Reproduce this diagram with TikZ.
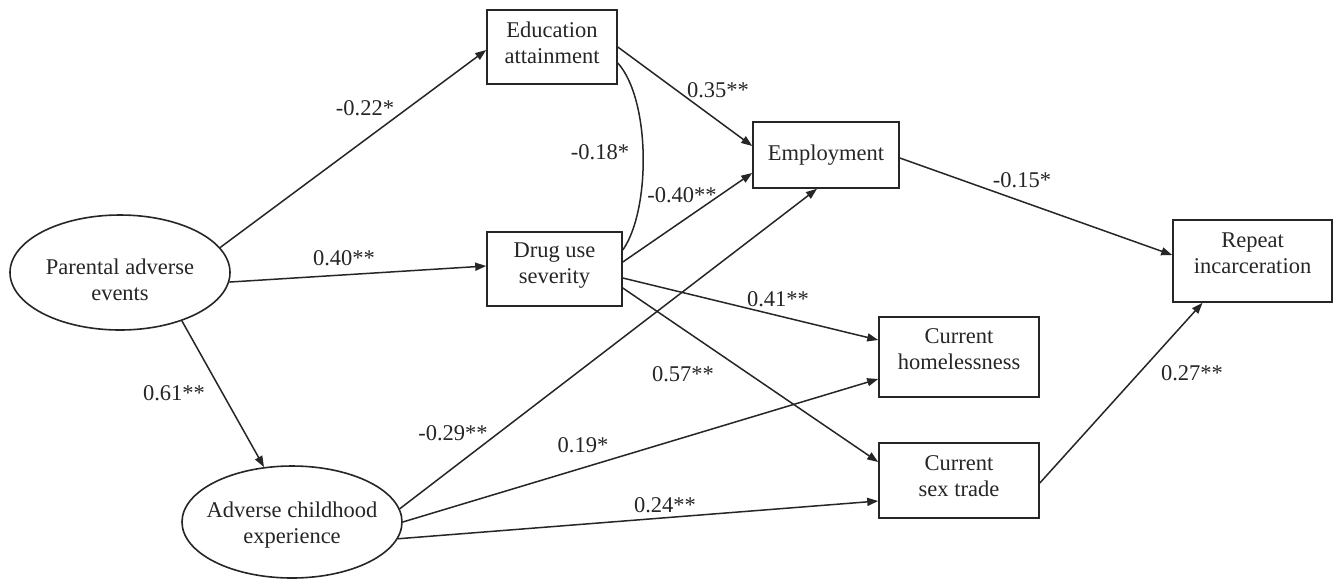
\documentclass[tikz,border=0pt]{standalone}
\usepackage{fontspec}
\setmainfont{Liberation Serif}
\usetikzlibrary{arrows.meta,shapes.geometric}
% two-line text; #3 = extra space above (moves text down), #4 = extra space below (moves text up)
\newcommand{\twoline}[4]{\begin{tabular}{@{}c@{}}\rule{0pt}{\dimexpr 18.2pt+#3\relax}#1\\#2\rule[\dimexpr -7.8pt-#4\relax]{0pt}{0pt}\end{tabular}}
\tikzset{
  txt/.style={font=\fontsize{22.5}{26}\selectfont, text=black!85},
  box/.style={txt, rectangle, draw=black!85, line width=1.6pt, inner sep=0pt},
  oval/.style={txt, ellipse, draw=black!85, line width=1.6pt, inner sep=0pt},
  coef/.style={txt, inner sep=0pt},
  arr/.style={draw=black!85, line width=1.5pt, -{Triangle[length=11pt,width=8pt]}},
  link/.style={draw=black!85, line width=1.5pt}
}
\begin{document}
\begin{tikzpicture}[x=1pt,y=-1pt]
\fill[white] (0,0) rectangle (1337,582);
\useasboundingbox (0,0) rectangle (1337,582);

% nodes
\node[oval, minimum width=220pt, minimum height=115pt] (pae) at (120,272.5)
  {\makebox[120pt]{\twoline{Parental adverse}{events}{20pt}{0pt}}};
\node[oval, minimum width=220pt, minimum height=112pt] (ace) at (292,522)
  {\makebox[120pt]{\twoline{Adverse childhood}{experience}{7pt}{0pt}}};
\node[box, minimum width=130pt, minimum height=74pt] (edu) at (552,47)
  {\twoline{Education}{attainment}{0pt}{4pt}};
\node[box, minimum width=135pt, minimum height=74pt] (drug) at (554.5,269)
  {\twoline{Drug use}{severity}{0pt}{7pt}};
\node[box, minimum width=146pt, minimum height=66pt] (emp) at (826,155)
  {Employment};
\node[box, minimum width=160pt, minimum height=80pt] (home) at (959,357)
  {\twoline{Current}{homelessness}{0pt}{12pt}};
\node[box, minimum width=160pt, minimum height=75pt] (sex) at (959,480.5)
  {\twoline{Current}{sex trade}{0pt}{5pt}};
\node[box, minimum width=159pt, minimum height=82pt] (rep) at (1252.5,261)
  {\twoline{Repeat}{incarceration}{0pt}{11pt}};

% connectors
\draw[arr] (pae.14.4) -- ([yshift=-3pt]edu.west);
\draw[arr] (pae.-5.5) -- ([yshift=3pt]drug.west);
\draw[arr] (pae.-38) -- (ace.117);
\draw[arr] (edu.east) -- ([yshift=9pt]emp.west);
\draw[link] ([yshift=-16pt]edu.east) .. controls +(33,37) and +(28,-40) .. ([yshift=19pt]drug.east);
\draw[arr] ([yshift=7pt]drug.east) -- ([yshift=-18pt]emp.west);
\draw[arr] (ace.7.6) -- ([xshift=-9pt]emp.south);
\draw[arr] ([yshift=-9pt]drug.east) -- ([yshift=17pt]home.west);
\draw[arr] ([yshift=-19pt]drug.east) -- ([yshift=18.5pt]sex.west);
\draw[arr] (ace.east) -- ([yshift=-22pt]home.west);
\draw[arr] (ace.-9) -- ([yshift=-20.5pt]sex.west);
\draw[arr] ([yshift=-3pt]emp.east) -- ([yshift=6pt]rep.west);
\draw[arr] ([yshift=-2.5pt]sex.east) -- ([xshift=-50pt]rep.south);

% coefficients
\node[coef] (c1) at (365,108) {-0.22*};
\node[coef] (c2) at (344,258) {0.40**};
\node[coef] (c3) at (174,393) {0.61**};
\node[coef] (c4) at (718,90) {0.35**};
\node[coef] (c5) at (600,152) {-0.18*};
\node[coef] (c6) at (682,195) {-0.40**};
\node[coef] (c7) at (1022,180) {-0.15*};
\node[coef] (c8) at (778,299) {0.41**};
\node[coef] (c9) at (683,374) {0.57**};
\node[coef] (c10) at (453,433) {-0.29**};
\node[coef] (c11) at (583,445) {0.19*};
\node[coef] (c12) at (665,505) {0.24**};
\node[coef] (c13) at (1192,373) {0.27**};
\end{tikzpicture}
\end{document}
